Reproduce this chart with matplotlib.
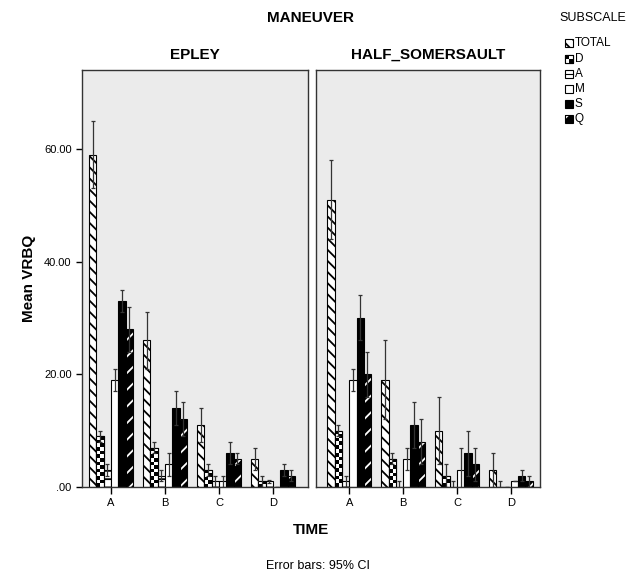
import matplotlib.pyplot as plt
import matplotlib.patches as patches
import numpy as np

plt.rcParams['font.family'] = ['Liberation Sans', 'DejaVu Sans']
plt.rcParams['hatch.linewidth'] = 1.3

# data
times = ['A', 'B', 'C', 'D']
subscales = ['TOTAL', 'D', 'A', 'M', 'S', 'Q']
panels = ['EPLEY', 'HALF_SOMERSAULT']

epley_mean = {
    'TOTAL': [59, 26, 11, 5],
    'D': [9, 7, 3, 1],
    'A': [3, 2, 1, 1],
    'M': [19, 4, 1, 0],
    'S': [33, 14, 6, 3],
    'Q': [28, 12, 5, 2],
}
epley_err = {
    'TOTAL': [6, 5, 3, 2],
    'D': [1, 1, 1, 1],
    'A': [1, 1, 1, 0.3],
    'M': [2, 2, 1, 0],
    'S': [2, 3, 2, 1],
    'Q': [4, 3, 1, 1],
}
half_mean = {
    'TOTAL': [51, 19, 10, 3],
    'D': [10, 5, 2, 0],
    'A': [1, 0, 0, 0],
    'M': [19, 5, 3, 1],
    'S': [30, 11, 6, 2],
    'Q': [20, 8, 4, 1],
}
half_err = {
    'TOTAL': [7, 7, 6, 3],
    'D': [1, 1, 2, 1],
    'A': [1, 1, 1, 0],
    'M': [2, 2, 4, 0],
    'S': [4, 4, 4, 1],
    'Q': [4, 4, 3, 1],
}
yticks = [0, 20, 40, 60]
ytick_labels = ['.00', '20.00', '40.00', '60.00']

W, H = 640, 575
fig = plt.figure(figsize=(6.4, 5.75), dpi=100)

def px_axes(x0, y0, x1, y1):
    return fig.add_axes([x0 / W, 1 - y1 / H, (x1 - x0) / W, (y1 - y0) / H])

ax1 = px_axes(82, 70, 308, 487)
ax2 = px_axes(316, 70, 540, 487)

bw = 0.135
ymax = 74.0
px_per_unit = 417 / ymax


def checker_fill(ax, bar, ncols=2):
    x, w, h = bar.get_x(), bar.get_width(), bar.get_height()
    if h <= 0:
        return
    cell_px = 7.3 / ncols
    nrows = max(1, int(round(h * px_per_unit / cell_px)))
    board = (np.add.outer(np.arange(nrows), np.arange(ncols)) % 2).astype(float)
    im = ax.imshow(board, cmap='gray', extent=[x, x + w, 0, h], aspect='auto',
                   interpolation='nearest', origin='lower', zorder=2)
    im.set_clip_path(bar)


def draw_panel(ax, means, errs, xlim):
    ax.set_facecolor('#ebebeb')
    x = np.arange(len(times))
    for i, s in enumerate(subscales):
        pos = x + (i - 2.5) * bw
        m = np.array(means[s], dtype=float)
        e = np.array(errs[s], dtype=float)
        if s == 'TOTAL':
            ax.bar(pos, m, bw, color='white', edgecolor='black', hatch='\\\\\\', lw=0.8, zorder=2)
        elif s == 'D':
            bars = ax.bar(pos, m, bw, color='white', edgecolor='black', lw=0.8, zorder=2)
            for b in bars:
                checker_fill(ax, b)
            ax.bar(pos, m, bw, color='none', edgecolor='black', lw=0.8, zorder=3)
        elif s == 'A':
            ax.bar(pos, m, bw, color='white', edgecolor='black', hatch='--', lw=0.8, zorder=2)
        elif s == 'M':
            ax.bar(pos, m, bw, color='white', edgecolor='black', lw=0.8, zorder=2)
        elif s == 'S':
            ax.bar(pos, m, bw, color='black', edgecolor='black', lw=0.8, zorder=2)
        else:
            ax.bar(pos, m, bw, color='black', edgecolor='white', hatch='//', lw=0, zorder=2)
            ax.bar(pos, m, bw, color='none', edgecolor='black', lw=0.8, zorder=3)
        ax.errorbar(pos, m, yerr=e, fmt='none', ecolor='#333333', elinewidth=0.9,
                    capsize=1.2, capthick=0.9, zorder=4)
    ax.set_xlim(*xlim)
    ax.set_ylim(0, ymax)
    ax.set_xticks(x)
    ax.set_xticklabels(times, fontsize=8)
    ax.tick_params(axis='x', length=5, width=1, direction='out', pad=3)
    for sp in ax.spines.values():
        sp.set_color('#333333')
        sp.set_linewidth(1)


draw_panel(ax1, epley_mean, epley_err, (-0.537, 3.648))
draw_panel(ax2, half_mean, half_err, (-0.617, 3.54))

ax1.set_yticks(yticks)
ax1.set_yticklabels(ytick_labels, fontsize=8)
ax1.tick_params(axis='y', length=4, width=1)
ax2.set_yticks([])
ax1.set_ylabel('Mean VRBQ', fontsize=11, fontweight='bold', labelpad=6)

ax1.set_title('EPLEY', fontsize=11, fontweight='bold', pad=8)
ax2.set_title('HALF_SOMERSAULT', fontsize=11, fontweight='bold', pad=8)

fig.text(311 / W, 1 - 18 / H, 'MANEUVER', ha='center', va='center', fontsize=11, fontweight='bold')
fig.text(311 / W, 1 - 530 / H, 'TIME', ha='center', va='center', fontsize=11, fontweight='bold')
fig.text(318 / W, 1 - 566 / H, 'Error bars: 95% CI', ha='center', va='center', fontsize=9)

# legend in pixel coords
lax = fig.add_axes([0, 0, 1, 1])
lax.set_xlim(0, W)
lax.set_ylim(H, 0)
lax.axis('off')
lax.text(593, 18, 'SUBSCALE', ha='center', va='center', fontsize=9)
leg_y = [43, 59, 74, 89, 104, 119]
for s, ly in zip(subscales, leg_y):
    sq = 8
    x0, y0 = 565, ly - sq / 2
    if s == 'TOTAL':
        lax.add_patch(patches.Rectangle((x0, y0), sq, sq, facecolor='white', edgecolor='black', hatch='\\\\\\', lw=0.8))
    elif s == 'D':
        r = patches.Rectangle((x0, y0), sq, sq, facecolor='white', edgecolor='black', lw=0.8)
        lax.add_patch(r)
        board = (np.add.outer(np.arange(2), np.arange(2)) % 2).astype(float)
        lax.imshow(board, cmap='gray', extent=[x0, x0 + sq, y0 + sq, y0], aspect='auto',
                   interpolation='nearest', zorder=2)
        lax.add_patch(patches.Rectangle((x0, y0), sq, sq, facecolor='none', edgecolor='black', lw=0.8, zorder=3))
    elif s == 'A':
        lax.add_patch(patches.Rectangle((x0, y0), sq, sq, facecolor='white', edgecolor='black', lw=0.8))
        lax.plot([x0, x0 + sq], [ly, ly], color='black', lw=0.8)
    elif s == 'M':
        lax.add_patch(patches.Rectangle((x0, y0), sq, sq, facecolor='white', edgecolor='black', lw=0.8))
    elif s == 'S':
        lax.add_patch(patches.Rectangle((x0, y0), sq, sq, facecolor='black', edgecolor='black', lw=0.8))
    else:
        lax.add_patch(patches.Rectangle((x0, y0), sq, sq, facecolor='black', edgecolor='white', hatch='//', lw=0))
        lax.add_patch(patches.Rectangle((x0, y0), sq, sq, facecolor='none', edgecolor='black', lw=0.8))
    lax.text(x0 + sq + 1.5, ly, s, ha='left', va='center', fontsize=8.5)
lax.set_xlim(0, W)
lax.set_ylim(H, 0)

fig.savefig('out.png', dpi=100)
